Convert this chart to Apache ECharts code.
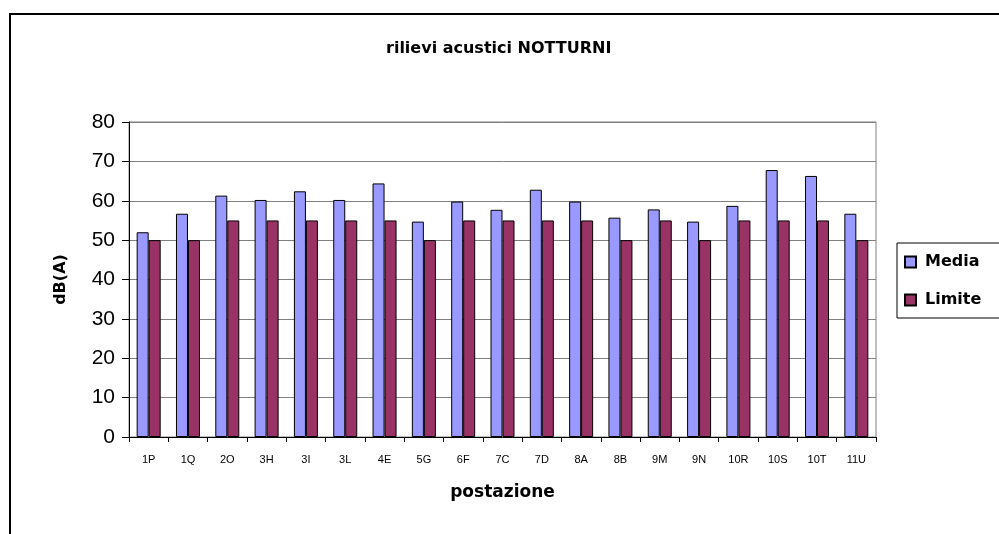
<!DOCTYPE html>
<html>
<head>
<meta charset="utf-8">
<script src="https://cdn.jsdelivr.net/npm/echarts@6/dist/echarts.min.js"></script>
<style>
  html, body { margin: 0; padding: 0; background: #fff; }
  #main { width: 999px; height: 534px; }
</style>
</head>
<body>
<div id="main"></div>
<script>
  // postazioni di misura
  var postazioni = ['1P', '1Q', '2O', '3H', '3I', '3L', '4E', '5G', '6F', '7C',
    '7D', '8A', '8B', '9M', '9N', '10R', '10S', '10T', '11U'];
  // valori medi notturni dB(A)
  var media = [52.0, 56.7, 61.3, 60.2, 62.4, 60.2, 64.4, 54.7, 59.8, 57.7,
    62.8, 59.8, 55.7, 57.8, 54.7, 58.7, 67.8, 66.3, 56.7];
  // limiti di legge
  var limite = [50, 50, 55, 55, 55, 55, 55, 50, 55, 55,
    55, 55, 50, 55, 50, 55, 55, 55, 50];

  var font = 'Liberation Sans, Arial, sans-serif';
  var fontBold = 'DejaVu Sans, Liberation Sans, sans-serif';
  var myChart = echarts.init(document.getElementById('main'));

  var option = {
    backgroundColor: '#fff',
    animation: false,
    title: {
      text: 'rilievi acustici NOTTURNI',
      left: 381,
      top: 36,
      textStyle: { fontFamily: fontBold, fontSize: 16, fontWeight: 'bold', color: '#000' }
    },
    graphic: [{
      type: 'rect',
      shape: { x: 10, y: 14, width: 1100, height: 700 },
      style: { fill: null, stroke: '#000', lineWidth: 2 },
      silent: true
    }],
    legend: {
      orient: 'vertical',
      left: 897,
      top: 243,
      padding: [11, 40, 10, 7],
      itemGap: 22,
      itemWidth: 11,
      itemHeight: 11,
      icon: 'rect',
      borderColor: '#000',
      borderWidth: 1,
      textStyle: { fontFamily: fontBold, fontSize: 16, fontWeight: 'bold', color: '#000', padding: [0, 0, 0, 4] },
      data: ['Media', 'Limite']
    },
    grid: {
      left: 129,
      right: 123,
      top: 122,
      bottom: 97,
      show: true,
      borderColor: '#808080',
      borderWidth: 1
    },
    xAxis: {
      type: 'category',
      data: postazioni,
      name: 'postazione',
      nameLocation: 'middle',
      nameGap: 47,
      nameTextStyle: { fontFamily: fontBold, fontSize: 17, fontWeight: 'bold', color: '#000' },
      axisLine: { lineStyle: { color: '#000', width: 1 } },
      axisTick: { show: true, length: 5, interval: 0, lineStyle: { color: '#000' } },
      axisLabel: { interval: 0, margin: 17, fontFamily: font, fontSize: 11, color: '#000' }
    },
    yAxis: {
      type: 'value',
      min: 0,
      max: 80,
      interval: 10,
      name: 'dB(A)',
      nameLocation: 'middle',
      nameGap: 60,
      nameTextStyle: { fontFamily: fontBold, fontSize: 16, fontWeight: 'bold', color: '#000' },
      axisLine: { show: true, lineStyle: { color: '#000', width: 1 } },
      axisTick: { show: true, length: 7, lineStyle: { color: '#000' } },
      axisLabel: { margin: 14, fontFamily: font, fontSize: 21, color: '#000' },
      splitLine: { show: true, lineStyle: { color: '#808080', width: 1 } }
    },
    series: [{
      name: 'Media',
      type: 'bar',
      data: media,
      barWidth: 12,
      barGap: '0%',
      itemStyle: { color: '#9999FF', borderColor: '#000', borderWidth: 1 }
    }, {
      name: 'Limite',
      type: 'bar',
      data: limite,
      barWidth: 12,
      itemStyle: { color: '#993366', borderColor: '#000', borderWidth: 1 }
    }]
  };

  myChart.setOption(option);
</script>
</body>
</html>
